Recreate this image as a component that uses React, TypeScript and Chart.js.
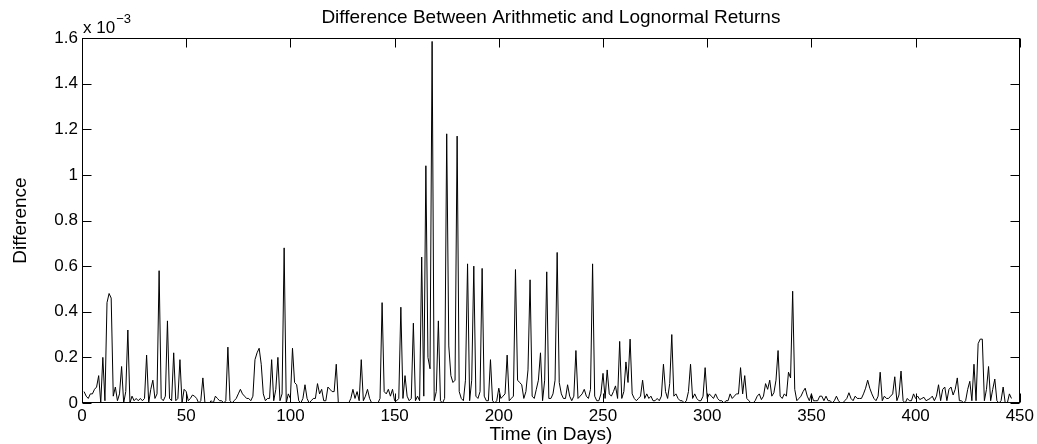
import React, { useEffect, useRef } from "react";
import { Chart, registerables } from "chart.js";

Chart.register(...registerables);

const TITLE = "Difference Between Arithmetic and Lognormal Returns";
const X_LABEL = "Time (in Days)";
const Y_LABEL = "Difference";
const Y_EXPONENT = "\u22123";

const X_TICKS = [0, 50, 100, 150, 200, 250, 300, 350, 400, 450];
const Y_TICKS = [0, 0.2, 0.4, 0.6, 0.8, 1, 1.2, 1.4, 1.6];

// Difference (in units of 10^-3), one value per day starting at day 1
const DIFFERENCE = [
  0.05, 0.03, 0.02, 0.04, 0.04, 0.06, 0.07, 0.12, 0.0, 0.2,
  0.01, 0.44, 0.48, 0.46, 0.03, 0.07, 0.01, 0.04, 0.16, 0.0,
  0.05, 0.32, 0.0, 0.03, 0.01, 0.02, 0.01, 0.02, 0.01, 0.02,
  0.21, 0.0, 0.06, 0.1, 0.02, 0.04, 0.58, 0.02, 0.01, 0.03,
  0.36, 0.02, 0.01, 0.22, 0.01, 0.02, 0.19, 0.0, 0.06, 0.05,
  0.01, 0.02, 0.035, 0.03, 0.02, 0.0, 0.01, 0.11, 0.0, 0.0,
  0.0, 0.01, 0.0, 0.03, 0.02, 0.01, 0.01, 0.0, 0.01, 0.245,
  0.01, 0.0, 0.01, 0.02, 0.04, 0.06, 0.04, 0.03, 0.02, 0.02,
  0.01, 0.03, 0.19, 0.22, 0.24, 0.17, 0.04, 0.01, 0.02, 0.02,
  0.19, 0.01, 0.06, 0.2, 0.01, 0.04, 0.68, 0.0, 0.04, 0.02,
  0.24, 0.09, 0.08, 0.01, 0.0, 0.02, 0.08, 0.02, 0.0, 0.01,
  0.02, 0.02, 0.085, 0.04, 0.06, 0.01, 0.01, 0.07, 0.06, 0.05,
  0.05, 0.17, 0.0, 0.0, 0.0, 0.0, 0.0, 0.0, 0.02, 0.06,
  0.02, 0.05, 0.01, 0.19, 0.01, 0.03, 0.06, 0.02, 0.0, 0.0,
  0.0, 0.0, 0.02, 0.44, 0.05, 0.04, 0.06, 0.03, 0.06, 0.01,
  0.01, 0.02, 0.42, 0.02, 0.12, 0.03, 0.01, 0.02, 0.35, 0.01,
  0.03, 0.01, 0.64, 0.03, 1.04, 0.2, 0.15, 1.585, 0.01, 0.05,
  0.36, 0.01, 0.0, 0.02, 1.18, 0.25, 0.12, 0.09, 0.1, 1.17,
  0.05, 0.02, 0.01, 0.1, 0.61, 0.01, 0.1, 0.6, 0.03, 0.02,
  0.05, 0.59, 0.03, 0.01, 0.01, 0.19, 0.01, 0.0, 0.01, 0.065,
  0.02, 0.03, 0.04, 0.21, 0.01, 0.02, 0.03, 0.585, 0.1, 0.09,
  0.08, 0.02, 0.05, 0.145, 0.54, 0.03, 0.02, 0.06, 0.1, 0.22,
  0.01, 0.1, 0.575, 0.02, 0.02, 0.04, 0.1, 0.66, 0.09, 0.04,
  0.02, 0.02, 0.08, 0.03, 0.01, 0.03, 0.23, 0.02, 0.03, 0.04,
  0.06, 0.03, 0.02, 0.06, 0.61, 0.03, 0.01, 0.01, 0.04, 0.13,
  0.02, 0.145, 0.04, 0.03, 0.05, 0.075, 0.02, 0.27, 0.02, 0.05,
  0.18, 0.09, 0.28, 0.04, 0.02, 0.01, 0.02, 0.03, 0.1, 0.02,
  0.04, 0.02, 0.03, 0.01, 0.01, 0.02, 0.01, 0.03, 0.17, 0.05,
  0.02, 0.085, 0.3, 0.03, 0.04, 0.02, 0.01, 0.01, 0.0, 0.01,
  0.05, 0.17, 0.02, 0.04, 0.02, 0.01, 0.01, 0.03, 0.155, 0.02,
  0.04, 0.03, 0.02, 0.04, 0.02, 0.01, 0.01, 0.0, 0.01, 0.01,
  0.04, 0.02, 0.03, 0.04, 0.04, 0.155, 0.04, 0.12, 0.02, 0.01,
  0.0, 0.0, 0.01, 0.03, 0.04, 0.015, 0.03, 0.085, 0.06, 0.1,
  0.03, 0.045, 0.1, 0.23, 0.03, 0.02, 0.04, 0.03, 0.135, 0.11,
  0.49, 0.06, 0.01, 0.02, 0.03, 0.05, 0.065, 0.03, 0.01, 0.04,
  0.01, 0.01, 0.01, 0.03, 0.03, 0.01, 0.03, 0.01, 0.01, 0.0,
  0.01, 0.03, 0.01, 0.0, 0.0, 0.01, 0.02, 0.045, 0.02, 0.01,
  0.03, 0.02, 0.02, 0.02, 0.04, 0.065, 0.1, 0.065, 0.04, 0.02,
  0.01, 0.03, 0.135, 0.01, 0.03, 0.02, 0.02, 0.03, 0.04, 0.115,
  0.01, 0.035, 0.14, 0.01, 0.0, 0.02, 0.01, 0.01, 0.04, 0.02,
  0.03, 0.015, 0.02, 0.025, 0.01, 0.015, 0.02, 0.03, 0.01, 0.03,
  0.08, 0.01, 0.06, 0.07, 0.01, 0.06, 0.07, 0.035, 0.06, 0.11,
  0.01, 0.01, 0.0, 0.01, 0.06, 0.095, 0.01, 0.17, 0.01, 0.26,
  0.28, 0.28, 0.01, 0.06, 0.16, 0.01, 0.06, 0.105, 0.01, 0.0,
  0.01, 0.07, 0.0, 0.0, 0.04, 0.02,
];

const DAYS = DIFFERENCE.map((_, i) => i + 1);

const FONT = '"Liberation Sans", Arial, Helvetica, sans-serif';

const matlabFrame = {
  id: "matlabFrame",
  afterDraw(chart: any) {
    const { ctx, chartArea: a, scales } = chart;
    const xs = scales.x;
    const ys = scales.y;
    const L = Math.round(a.left) + 0.5;
    const R = Math.round(a.right) - 0.5;
    const T = Math.round(a.top) + 0.5;
    const B = Math.round(a.bottom) - 0.5;
    const TL = 9;
    ctx.save();
    ctx.strokeStyle = "#000";
    ctx.lineWidth = 1;
    ctx.strokeRect(L, T, R - L, B - T);
    ctx.beginPath();
    X_TICKS.forEach((v) => {
      const px = Math.round(xs.getPixelForValue(v)) + 0.5;
      ctx.moveTo(px, B);
      ctx.lineTo(px, B - TL);
      ctx.moveTo(px, T);
      ctx.lineTo(px, T + TL);
    });
    Y_TICKS.forEach((v) => {
      const py = Math.round(ys.getPixelForValue(v)) + 0.5;
      ctx.moveTo(L, py);
      ctx.lineTo(L + TL, py);
      ctx.moveTo(R, py);
      ctx.lineTo(R - TL, py);
    });
    ctx.stroke();

    ctx.fillStyle = "#000";
    const cx = (a.left + a.right) / 2;
    const cy = (a.top + a.bottom) / 2;
    ctx.font = `19px ${FONT}`;
    ctx.textAlign = "center";
    ctx.textBaseline = "alphabetic";
    ctx.fillText(TITLE, cx, 23);

    ctx.textBaseline = "middle";
    ctx.fillText(X_LABEL, cx, 435);

    ctx.save();
    ctx.translate(21, cy);
    ctx.rotate(-Math.PI / 2);
    ctx.fillText(Y_LABEL, 0, 0);
    ctx.restore();

    ctx.textAlign = "left";
    ctx.textBaseline = "alphabetic";
    ctx.font = `17px ${FONT}`;
    const base = "x 10";
    ctx.fillText(base, a.left + 1, 33);
    const w = ctx.measureText(base).width;
    ctx.font = `13px ${FONT}`;
    ctx.fillText(Y_EXPONENT, a.left + 1 + w + 1, 23);
    ctx.restore();
  },
};

export default function App() {
  const ref = useRef<HTMLCanvasElement>(null);
  useEffect(() => {
    document.body.style.margin = "0";
    const chart = new Chart(ref.current as HTMLCanvasElement, {
      type: "line",
      data: {
        datasets: [
          {
            data: DAYS.map((d, i) => ({ x: d, y: DIFFERENCE[i] })),
            borderColor: "#000",
            borderWidth: 1,
            pointRadius: 0,
            tension: 0,
            fill: false,
          },
        ],
      },
      options: {
        responsive: false,
        animation: false,
        devicePixelRatio: 1,
        layout: { padding: { top: 38, right: 16, left: 0, bottom: 0 } },
        plugins: { legend: { display: false }, tooltip: { enabled: false }, title: { display: false } },
        scales: {
          x: {
            type: "linear",
            min: 0,
            max: 450,
            grid: { display: false, drawTicks: false },
            border: { display: false },
            ticks: { color: "#000", font: { family: FONT, size: 17 }, padding: 3, maxRotation: 0, autoSkip: false },
            afterBuildTicks: (s: any) => {
              s.ticks = X_TICKS.map((v) => ({ value: v }));
            },
            afterFit: (s: any) => {
              s.height = 41;
            },
          },
          y: {
            type: "linear",
            min: 0,
            max: 1.6,
            grid: { display: false, drawTicks: false },
            border: { display: false },
            ticks: {
              color: "#000",
              font: { family: FONT, size: 17 },
              padding: 4,
              autoSkip: false,
              callback: (v: any) => String(Number(Number(v).toFixed(1))),
            },
            afterBuildTicks: (s: any) => {
              s.ticks = Y_TICKS.map((v) => ({ value: v }));
            },
            afterFit: (s: any) => {
              s.width = 82;
            },
          },
        },
      },
      plugins: [matlabFrame],
    } as any);
    return () => chart.destroy();
  }, []);
  return <canvas ref={ref} width={1037} height={444} style={{ display: "block" }} />;
}
